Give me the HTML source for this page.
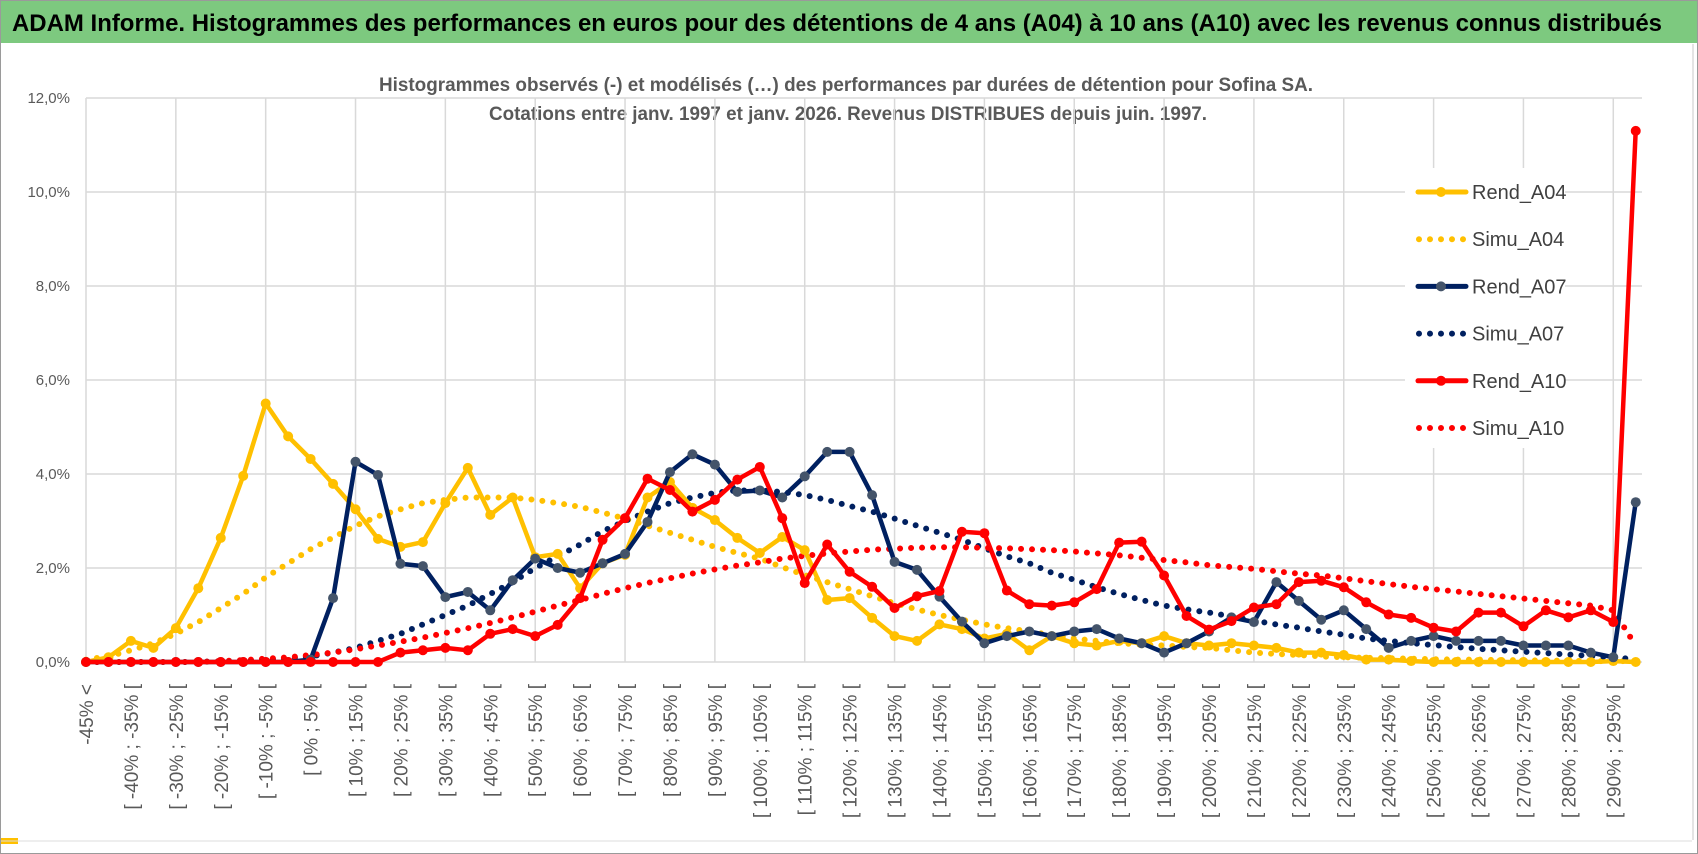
<!DOCTYPE html>
<html><head><meta charset="utf-8">
<style>
html,body{margin:0;padding:0;background:#fff;}
svg{display:block;font-family:"Liberation Sans",sans-serif;}
</style></head>
<body>
<svg id="chart" width="1698" height="854" viewBox="0 0 1698 854" xmlns="http://www.w3.org/2000/svg">
<rect x="0.5" y="0.5" width="1697" height="853" fill="#fff" stroke="#9a9a9a"/>
<rect x="1" y="1" width="1696" height="42" fill="#7DC97F"/>
<text x="12" y="31" font-size="24" font-weight="bold" fill="#000" textLength="1650" lengthAdjust="spacingAndGlyphs">ADAM Informe. Histogrammes des performances en euros pour des détentions de 4 ans (A04) à 10 ans (A10) avec les revenus connus distribués</text>
<rect x="1" y="838" width="17" height="6" fill="#FFC000"/>
<line x1="1693" y1="44" x2="1693" y2="840" stroke="#c8c8c8"/>
<line x1="1" y1="841" x2="1692" y2="841" stroke="#dcdcdc"/>
<text x="846" y="91" font-size="19" font-weight="bold" fill="#595959" text-anchor="middle" textLength="934" lengthAdjust="spacingAndGlyphs">Histogrammes observés (-) et modélisés (…) des performances par durées de détention pour Sofina SA.</text>
<text x="848" y="120" font-size="19" font-weight="bold" fill="#595959" text-anchor="middle" textLength="718" lengthAdjust="spacingAndGlyphs">Cotations entre janv. 1997 et janv. 2026. Revenus DISTRIBUES depuis juin. 1997.</text>
<g id="grid"></g>
<g id="xlabels"></g>
<g id="series"></g>
<g id="legend"></g>
</svg>
<script>
const categoriesStart = -45;
const yTicks = [0,2,4,6,8,10,12];
const yTickLabels = ["0,0%","2,0%","4,0%","6,0%","8,0%","10,0%","12,0%"];
const rendA04 = [0,0.1,0.45,0.3,0.72,1.57,2.64,3.96,5.5,4.8,
4.32,3.79,3.25,2.62,2.45,2.55,3.38,4.13,3.13,3.5,
2.23,2.3,1.57,2.1,2.28,3.5,3.83,3.28,3.02,2.64,
2.32,2.66,2.38,1.32,1.36,0.94,0.55,0.45,0.8,0.7,
0.5,0.6,0.25,0.55,0.4,0.35,0.45,0.4,0.55,0.4,
0.35,0.4,0.35,0.3,0.2,0.2,0.15,0.05,0.05,0.02,
0,0,0,0,0,0,0,0,0.02,0];
const simuA04 = [0.05,0.12,0.25,0.4,0.6,0.85,1.15,1.45,1.8,2.1,
2.4,2.65,2.9,3.1,3.25,3.38,3.45,3.5,3.5,3.5,
3.45,3.38,3.3,3.18,3.05,2.9,2.75,2.6,2.45,2.32,
2.2,2.02,1.85,1.7,1.55,1.4,1.25,1.12,1.0,0.9,
0.8,0.72,0.65,0.57,0.5,0.45,0.4,0.37,0.35,0.32,
0.3,0.25,0.2,0.17,0.15,0.12,0.1,0.09,0.08,0.07,
0.06,0.05,0.05,0.04,0.04,0.03,0.03,0.02,0.02,0.02];
const rendA07 = [0,0,0,0,0,0,0,0,0,0,
0.05,1.36,4.26,3.98,2.09,2.04,1.38,1.49,1.1,1.74,
2.2,2.0,1.9,2.1,2.3,2.98,4.04,4.42,4.2,3.62,
3.65,3.5,3.95,4.47,4.47,3.55,2.13,1.96,1.39,0.86,
0.4,0.55,0.65,0.55,0.65,0.7,0.5,0.4,0.2,0.4,
0.65,0.95,0.85,1.7,1.3,0.9,1.1,0.7,0.3,0.45,
0.55,0.45,0.45,0.45,0.35,0.35,0.35,0.2,0.1,3.4];
const simuA07 = [0,0,0,0,0,0,0.02,0.03,0.05,0.08,
0.12,0.2,0.3,0.45,0.6,0.8,1.0,1.2,1.45,1.7,
2.0,2.25,2.5,2.78,3.0,3.2,3.38,3.5,3.6,3.65,
3.65,3.62,3.55,3.45,3.32,3.2,3.05,2.9,2.75,2.6,
2.42,2.25,2.1,1.9,1.75,1.59,1.45,1.32,1.2,1.12,
1.05,0.97,0.88,0.8,0.73,0.65,0.58,0.5,0.45,0.4,
0.36,0.32,0.28,0.25,0.22,0.19,0.16,0.13,0.1,0.06];
const rendA10 = [0,0,0,0,0,0,0,0,0,0,
0,0,0,0,0.2,0.25,0.3,0.25,0.6,0.7,
0.55,0.79,1.36,2.6,3.06,3.9,3.66,3.2,3.45,3.88,
4.15,3.06,1.68,2.5,1.92,1.6,1.15,1.4,1.51,2.77,
2.74,1.52,1.23,1.2,1.27,1.55,2.54,2.56,1.84,0.98,
0.69,0.87,1.16,1.23,1.7,1.73,1.59,1.27,1.01,0.94,
0.73,0.65,1.05,1.05,0.76,1.1,0.95,1.1,0.85,11.3];
const simuA10 = [0,0,0,0,0,0,0.02,0.04,0.07,0.1,
0.15,0.2,0.27,0.35,0.43,0.52,0.62,0.72,0.83,0.95,
1.07,1.2,1.32,1.45,1.57,1.68,1.78,1.88,1.97,2.05,
2.12,2.2,2.26,2.31,2.35,2.39,2.41,2.43,2.44,2.44,
2.43,2.42,2.4,2.38,2.35,2.31,2.27,2.22,2.17,2.12,
2.06,2.02,1.98,1.93,1.88,1.84,1.78,1.72,1.66,1.6,
1.55,1.5,1.45,1.4,1.35,1.3,1.25,1.2,1.1,0.35];
const seriesNames = ["Rend_A04","Simu_A04","Rend_A07","Simu_A07","Rend_A10","Simu_A10"];

const NS="http://www.w3.org/2000/svg";
const X0=86, STEP=22.46, Y0=662, PPU=47;
const xS=k=>X0+STEP*k;
const yS=v=>Y0-v*PPU;
function mk(tag,attrs,parent){const e=document.createElementNS(NS,tag);for(const a in attrs)e.setAttribute(a,attrs[a]);parent.appendChild(e);return e;}
const grid=document.getElementById('grid');
const N=rendA04.length;
const plotRight=1642;
yTicks.forEach((t,i)=>{
  const l=mk('line',{x1:X0,x2:plotRight,y1:yS(t),y2:yS(t),stroke:'#d9d9d9','stroke-width':1.5},grid);
  
  
  const tx=mk('text',{x:70,y:yS(t)+5,'font-size':15,fill:'#595959','text-anchor':'end'},grid);
  tx.textContent=yTickLabels[i];
  
  
});
for(let k=0;k<N;k+=4){
  const l=mk('line',{x1:xS(k),x2:xS(k),y1:yS(12),y2:Y0,stroke:'#d9d9d9','stroke-width':1.5},grid);
  
  
}
const xl=document.getElementById('xlabels');
for(let k=0;k<N-1;k+=2){
  const lo=categoriesStart-5+5*k;
  const txt=k===0?(categoriesStart+"% <"):("[ "+lo+"% ; "+(lo+5)+"% [");
  const x=xS(k)+7, y=684;
  const t=mk('text',{x:x,y:y,'font-size':19,fill:'#595959','text-anchor':'end',transform:`rotate(-90 ${x} ${y})`},xl);
  t.textContent=txt;
  
  
}
const sg=document.getElementById('series');
function pts(arr){return arr.map((v,k)=>xS(k).toFixed(1)+','+yS(v).toFixed(1)).join(' ');}
function dotted(arr,color,name){
  const p=mk('polyline',{points:pts(arr),fill:'none',stroke:color,'stroke-width':6,'stroke-linecap':'round','stroke-dasharray':'0 11'},sg);
  
  
}
function solid(arr,color,mcolor,name){
  const p=mk('polyline',{points:pts(arr),fill:'none',stroke:color,'stroke-width':4.5,'stroke-linejoin':'round'},sg);
  
  
  arr.forEach((v,k)=>{
    const c=mk('circle',{cx:xS(k),cy:yS(v),r:5,fill:mcolor},sg);
    
    
  });
}
dotted(simuA04,'#FFC000','simu-a04-line');
dotted(simuA07,'#002060','simu-a07-line');
dotted(simuA10,'#FF0000','simu-a10-line');
solid(rendA04,'#FFC000','#FFC000','rend-a04-line');
solid(rendA07,'#002060','#44546A','rend-a07-line');
solid(rendA10,'#FF0000','#FF0000','rend-a10-line');

const lg=document.getElementById('legend');
const bg=mk('rect',{x:1405,y:168,width:160,height:280,fill:'#fff'},lg);


const lcol=['#FFC000','#FFC000','#002060','#002060','#FF0000','#FF0000'];
const mcol=['#FFC000','#FFC000','#44546A','#002060','#FF0000','#FF0000'];
seriesNames.forEach((n,i)=>{
  const y=192+i*47.2;
  if(i%2===0){
    const l=mk('line',{x1:1418,x2:1466,y1:y,y2:y,stroke:lcol[i],'stroke-width':5,'stroke-linecap':'round'},lg);
    
    
    const c=mk('circle',{cx:1441,cy:y,r:5,fill:mcol[i]},lg);
    
    
  } else {
    const l=mk('line',{x1:1419,x2:1466,y1:y,y2:y,stroke:lcol[i],'stroke-width':6,'stroke-linecap':'round','stroke-dasharray':'0 11'},lg);
    
    
  }
  const t=mk('text',{x:1472,y:y+7,'font-size':20,fill:'#404040'},lg);
  t.textContent=n;
  
  
});
</script>
</body></html>
